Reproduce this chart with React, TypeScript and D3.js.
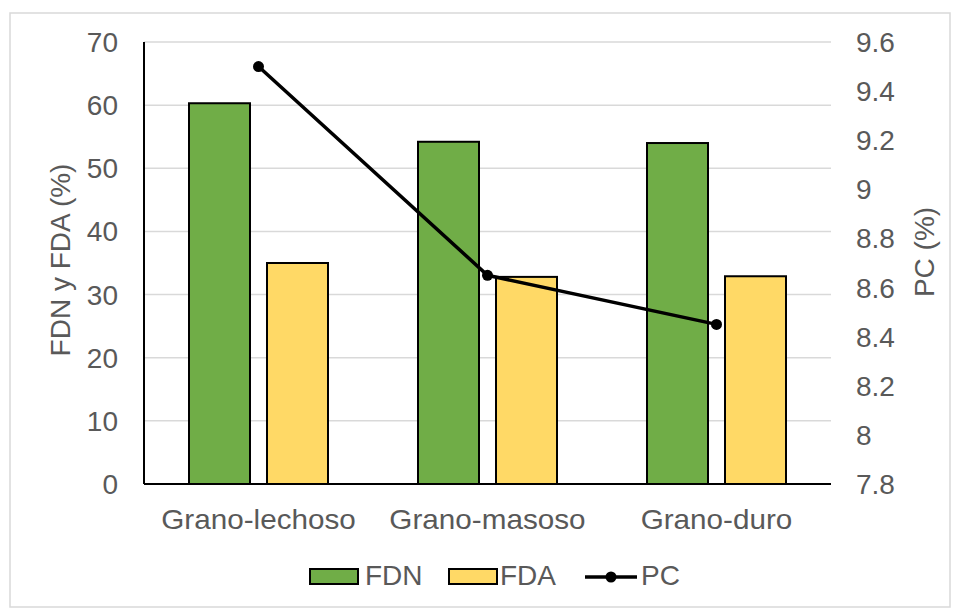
import React from "react";
import * as d3 from "d3";

const categories = ["Grano-lechoso", "Grano-masoso", "Grano-duro"];
const fdn = [60.3, 54.2, 54.0];
const fda = [35.0, 32.8, 32.9];
const pc = [9.5, 8.65, 8.45];
const leftTicks = [0, 10, 20, 30, 40, 50, 60, 70];
const rightTicks = [7.8, 8, 8.2, 8.4, 8.6, 8.8, 9, 9.2, 9.4, 9.6];

const W = 960, H = 613;
const M = { left: 144, right: 831, top: 42, bottom: 484 };
const FONT = "'Liberation Sans', Arial, sans-serif";
const FS = 28;
const TXT = "#595959";
const GREEN = "#70ad47";
const YELLOW = "#ffd966";

export default function App() {
  const x = d3.scaleBand<string>().domain(categories).range([M.left, M.right]);
  const yL = d3.scaleLinear().domain([0, 70]).range([M.bottom, M.top]);
  const yR = d3.scaleLinear().domain([7.8, 9.6]).range([M.bottom, M.top]);
  const barW = 61;
  const gap = 17;
  const line = d3.line<number>()
    .x((_, i) => (x(categories[i]) as number) + x.bandwidth() / 2)
    .y((d) => yR(d));

  return (
    <svg width={W} height={H} style={{ position: "absolute", left: 0, top: 0, background: "#fff" }}>
      <rect x={10} y={13} width={940} height={594} fill="#fff" stroke="#d9d9d9" strokeWidth={1.5} />
      {leftTicks.map((t) => (
        <line key={"g" + t} x1={M.left} x2={M.right} y1={yL(t)} y2={yL(t)} stroke="#d9d9d9" strokeWidth={1.5} />
      ))}
      {categories.map((c, i) => {
        const cx = (x(c) as number) + x.bandwidth() / 2;
        return (
          <g key={c}>
            <rect x={cx - gap / 2 - barW} y={yL(fdn[i])} width={barW} height={yL(0) - yL(fdn[i])} fill={GREEN} stroke="#000" strokeWidth={2} />
            <rect x={cx + gap / 2} y={yL(fda[i])} width={barW} height={yL(0) - yL(fda[i])} fill={YELLOW} stroke="#000" strokeWidth={2} />
            <text transform={`translate(${cx},529) scale(1.06,1)`} textAnchor="middle" fontFamily={FONT} fontSize={FS} fill={TXT}>{c}</text>
          </g>
        );
      })}
      <line x1={M.left} x2={M.left} y1={M.top} y2={M.bottom} stroke="#000" strokeWidth={2} />
      <line x1={M.left} x2={M.right} y1={M.bottom} y2={M.bottom} stroke="#000" strokeWidth={2} />
      <path d={line(pc) as string} fill="none" stroke="#000" strokeWidth={3.5} />
      {pc.map((v, i) => (
        <circle key={i} cx={(x(categories[i]) as number) + x.bandwidth() / 2} cy={yR(v)} r={5.5} fill="#000" />
      ))}
      {leftTicks.map((t) => (
        <text key={"l" + t} x={118} y={yL(t) + 10} textAnchor="end" fontFamily={FONT} fontSize={FS} fill={TXT}>{t}</text>
      ))}
      {rightTicks.map((t) => (
        <text key={"r" + t} x={856} y={yR(t) + 10} textAnchor="start" fontFamily={FONT} fontSize={FS} fill={TXT}>{d3.format("~g")(t)}</text>
      ))}
      <text transform={`translate(70,260) rotate(-90)`} textAnchor="middle" fontFamily={FONT} fontSize={FS} fill={TXT}>FDN y FDA (%)</text>
      <text transform={`translate(934,252) rotate(-90)`} textAnchor="middle" fontFamily={FONT} fontSize={FS} fill={TXT}>PC (%)</text>
      <g>
        <rect x={310} y={569} width={48} height={15} fill={GREEN} stroke="#000" strokeWidth={2} />
        <text x={365} y={585} fontFamily={FONT} fontSize={FS} fill={TXT}>FDN</text>
        <rect x={449} y={569} width={48} height={15} fill={YELLOW} stroke="#000" strokeWidth={2} />
        <text x={500} y={585} fontFamily={FONT} fontSize={FS} fill={TXT}>FDA</text>
        <line x1={585} x2={637} y1={577} y2={577} stroke="#000" strokeWidth={3.5} />
        <circle cx={611} cy={577} r={5.5} fill="#000" />
        <text x={641} y={585} fontFamily={FONT} fontSize={FS} fill={TXT}>PC</text>
      </g>
    </svg>
  );
}
